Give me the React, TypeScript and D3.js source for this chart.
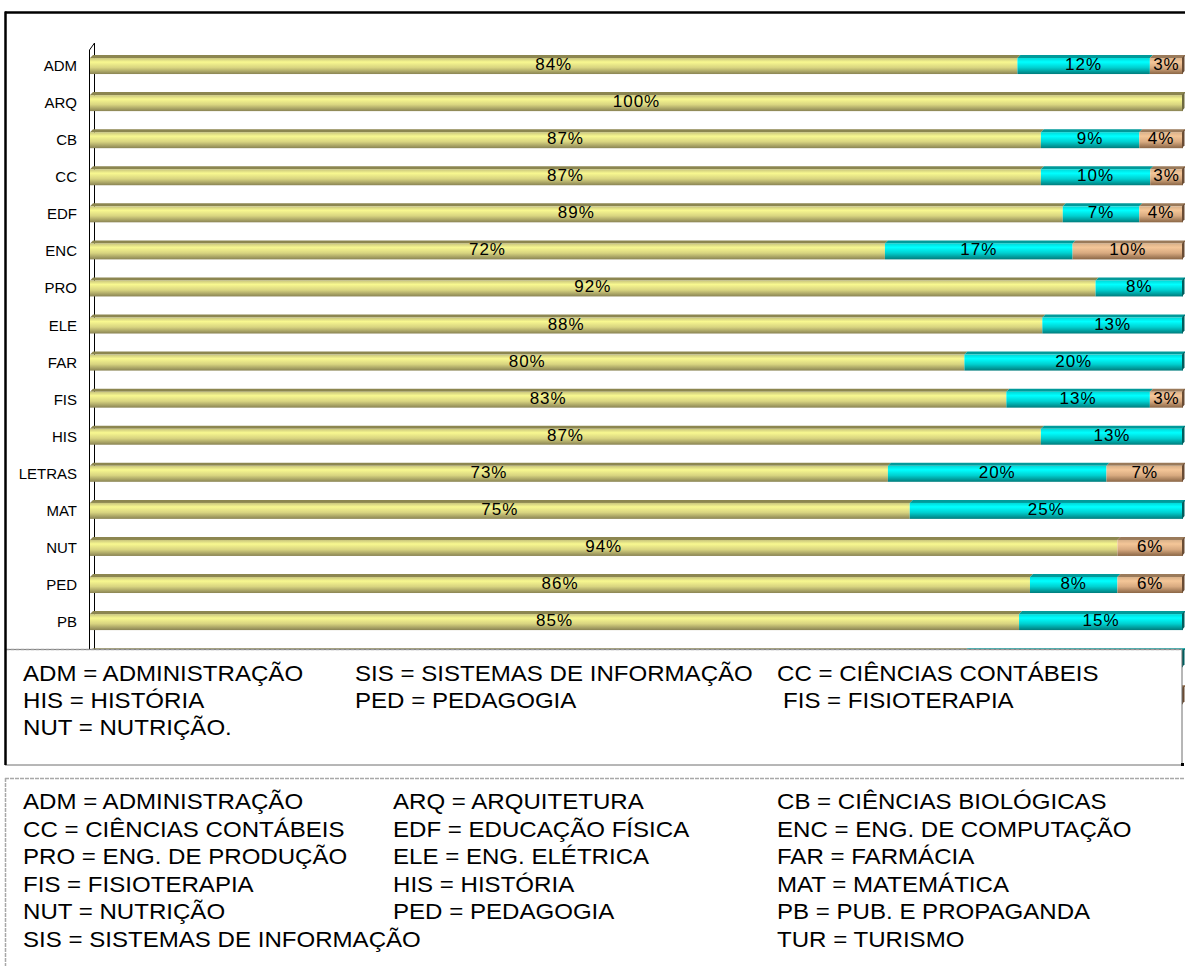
import React from "react";
import * as d3 from "d3";

const categories = ["ADM","ARQ","CB","CC","EDF","ENC","PRO","ELE","FAR","FIS","HIS","LETRAS","MAT","NUT","PED","PB","SIS","TUR"];
const serieA = [84,100,87,87,89,72,92,88,80,83,87,73,75,94,86,85,80,70];
const serieB = [12,0,9,10,7,17,8,13,20,13,13,20,25,0,8,15,20,20];
const serieC = [3,0,4,3,4,10,0,0,0,3,0,7,0,6,6,0,0,10];

const legend1Rows = [
  ["ADM = ADMINISTRAÇÃO", "SIS = SISTEMAS DE INFORMAÇÃO", "CC = CIÊNCIAS CONTÁBEIS"],
  ["HIS = HISTÓRIA", "PED = PEDAGOGIA", "FIS = FISIOTERAPIA"],
  ["NUT = NUTRIÇÃO.", "", ""],
];
const legend2Rows = [
  ["ADM = ADMINISTRAÇÃO", "ARQ = ARQUITETURA", "CB = CIÊNCIAS BIOLÓGICAS"],
  ["CC = CIÊNCIAS CONTÁBEIS", "EDF = EDUCAÇÃO FÍSICA", "ENC = ENG. DE COMPUTAÇÃO"],
  ["PRO = ENG. DE PRODUÇÃO", "ELE = ENG. ELÉTRICA", "FAR = FARMÁCIA"],
  ["FIS = FISIOTERAPIA", "HIS = HISTÓRIA", "MAT = MATEMÁTICA"],
  ["NUT = NUTRIÇÃO", "PED = PEDAGOGIA", "PB = PUB. E PROPAGANDA"],
  ["SIS = SISTEMAS DE INFORMAÇÃO", "", "TUR = TURISMO"],
];

const FONT = "'Liberation Sans', Arial, Helvetica, sans-serif";

const palettes = [
  { id: "gA", top: "#8c8650", stops: ["#c8c47c", "#f8f890", "#d8d480", "#8a8454"], side: "#6e6a40" },
  { id: "gB", top: "#009a9a", stops: ["#00d8d8", "#00ffff", "#00d0d0", "#007c7c"], side: "#005e5e" },
  { id: "gC", top: "#9a7a5a", stops: ["#d8b088", "#f4c698", "#d8aa80", "#8a6646"], side: "#6a4c34" },
];

const LEG_TOP = 649.5;

export default function App() {
  const W = 1185, H = 966;
  const x = d3.scaleLinear().domain([0, 1]).range([90, 1183]);
  const y = d3.scaleBand().domain(categories).range([47.5, 47.5 + 18 * 37.07]).paddingInner(0.55).paddingOuter(0.275);
  const bh = 16;
  const depth = 3;

  const rows = categories.map((c, i) => {
    const vals = [serieA[i], serieB[i], serieC[i]];
    const total = d3.sum(vals);
    let cum = 0;
    const segs = vals.map((v, k) => {
      const s = { k, v, x0: x(cum / total), x1: x((cum + v) / total) };
      cum += v;
      return s;
    });
    return { c, segs };
  });

  const legText = (key: string, t: string, tx: number, ty: number) => (
    <text key={key} transform={`translate(${tx},${ty}) scale(1.12,1)`} fontSize={21.5} fill="#000">
      {t}
    </text>
  );

  return (
    <svg width={W} height={H} style={{ position: "absolute", left: 0, top: 0, background: "#fff" }} fontFamily={FONT}>
      <defs>
        {palettes.map((p) => (
          <linearGradient key={p.id} id={p.id} x1="0" y1="0" x2="0" y2="1">
            <stop offset="0" stopColor={p.stops[0]} />
            <stop offset="0.25" stopColor={p.stops[1]} />
            <stop offset="0.6" stopColor={p.stops[2]} />
            <stop offset="1" stopColor={p.stops[3]} />
          </linearGradient>
        ))}
      </defs>
      <rect x={0} y={0} width={W} height={H} fill="#fff" />

      {/* axis wall */}
      <path d={`M89.5,650 L89.5,50 L94.5,43 M94.5,43 L94.5,650`} fill="none" stroke="#000" strokeWidth={1} />

      {/* bars */}
      {rows.map((r) => {
        const yc = (y(r.c) as number) + y.bandwidth() / 2;
        const yTop = yc - bh / 2;
        const last = [...r.segs].reverse().find((s) => s.v > 0)!;
        const visible = yc < LEG_TOP;
        return (
          <g key={r.c}>
            {r.segs.filter((s) => s.v > 0).map((s) => {
              const p = palettes[s.k];
              return (
                <g key={s.k}>
                  <polygon
                    points={`${s.x0},${yTop} ${s.x0 + depth},${yTop - depth} ${s.x1 + depth},${yTop - depth} ${s.x1},${yTop}`}
                    fill={p.top}
                  />
                  <rect x={s.x0} y={yTop} width={s.x1 - s.x0} height={bh} fill={`url(#${p.id})`} />
                </g>
              );
            })}
            <polygon
              points={`${last.x1 - 1},${yTop} ${last.x1 + 1.5},${yTop - depth} ${last.x1 + 1.5},${yTop + bh - depth} ${last.x1 - 1},${yTop + bh}`}
              fill={palettes[last.k].side}
            />
            {visible && r.segs.filter((s) => s.v > 0).map((s) => (
              <text key={"t" + s.k} x={(s.x0 + s.x1) / 2} y={yc + 4} textAnchor="middle" fontSize={17} letterSpacing={1} fill="#000">
                {s.v + "%"}
              </text>
            ))}
            {visible && <text x={77} y={yc + 5} textAnchor="end" fontSize={15} fill="#000">{r.c}</text>}
          </g>
        );
      })}

      {/* legend box 1 (overlapping chart) */}
      <rect x={5.5} y={LEG_TOP} width={1176.5} height={115.5} fill="#fff" stroke="#6e6e6e" strokeWidth={1} />
      <line x1={5.5} y1={LEG_TOP} x2={1182} y2={LEG_TOP} stroke="#9a9a9a" strokeWidth={1.5} strokeDasharray="4,1" />
      {legend1Rows.map((row, ri) =>
        row.map((t, ci) => (t ? legText(`l1-${ri}-${ci}`, t, [23, 355, ci === 2 && ri === 1 ? 783 : 777][ci], 681 + ri * 27) : null))
      )}

      {/* chart outer border */}
      <line x1={5} y1={12.5} x2={W} y2={12.5} stroke="#000" strokeWidth={2.5} />
      <line x1={5.5} y1={11.5} x2={5.5} y2={765} stroke="#000" strokeWidth={2.5} />
      <rect x={1181} y={763} width={3} height={3} fill="#000" />

      {/* legend box 2 */}
      <line x1={5} y1={778.5} x2={W} y2={778.5} stroke="#a8a8a8" strokeWidth={1.5} strokeDasharray="4,1" />
      <line x1={5.5} y1={778} x2={5.5} y2={H} stroke="#a8a8a8" strokeWidth={1.5} strokeDasharray="4,1" />
      {legend2Rows.map((row, ri) =>
        row.map((t, ci) => (t ? legText(`l2-${ri}-${ci}`, t, [23, 393, 777][ci], 809 + ri * 27.5) : null))
      )}
    </svg>
  );
}
